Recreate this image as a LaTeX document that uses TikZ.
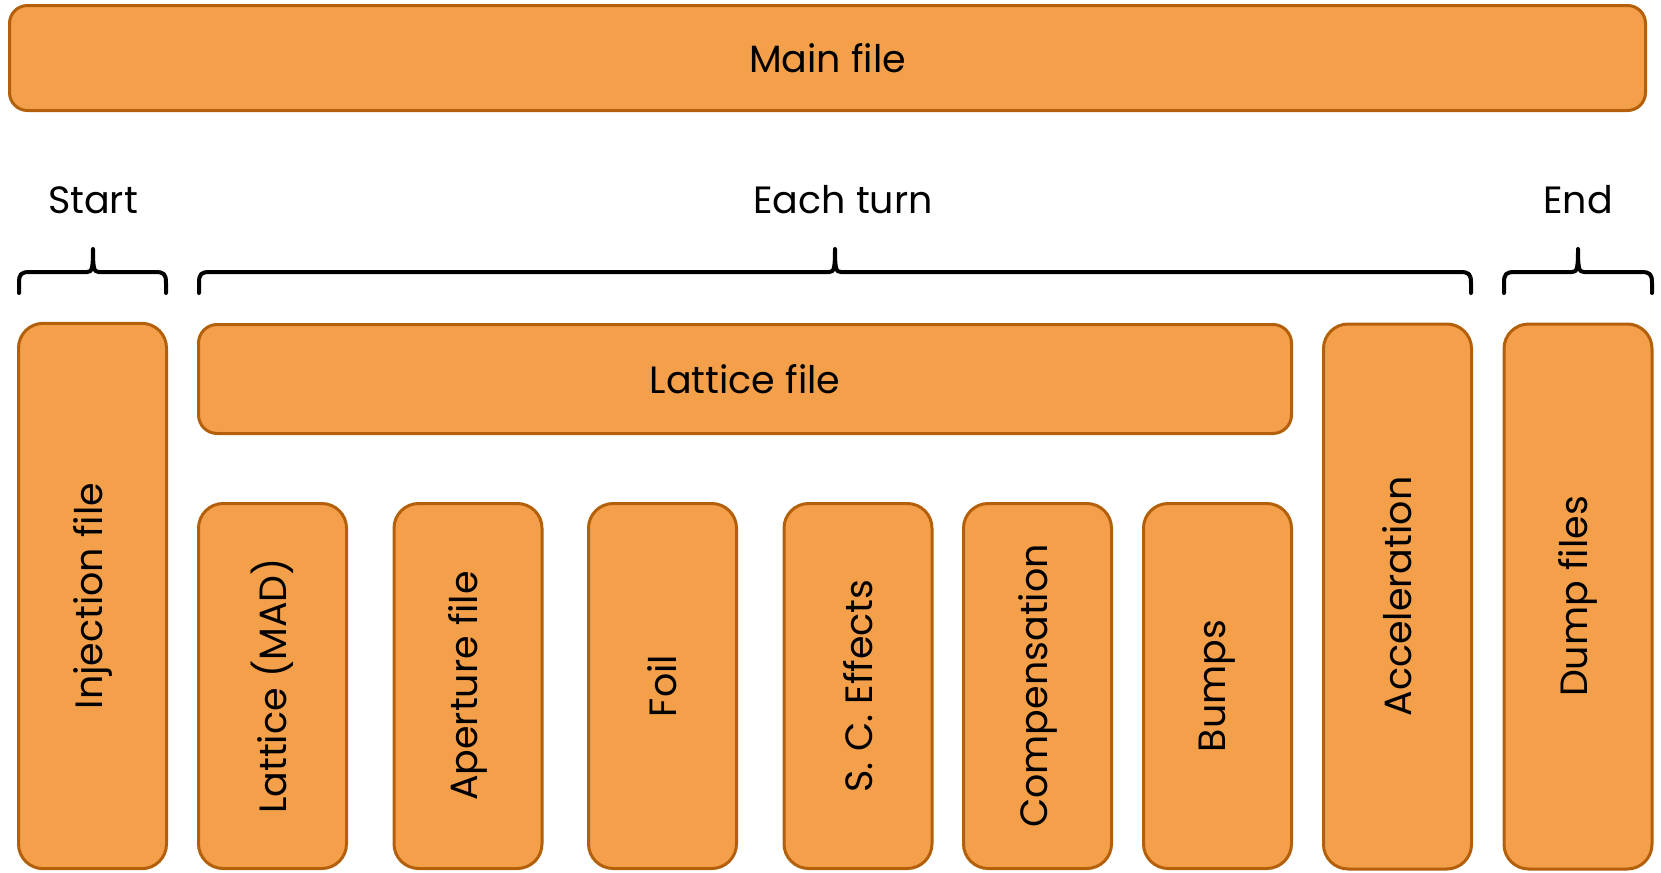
\documentclass[tikz,border=0pt]{standalone}
\usepackage{fontspec}
\setmainfont{Poppins}
\definecolor{boxfill}{HTML}{F4A04A}
\definecolor{boxline}{HTML}{B4600A}
\tikzset{
  filebox/.style={draw=boxline, fill=boxfill, line width=2.25pt,
    inner sep=0pt, outer sep=0pt, font=\fontsize{28.5}{34}\selectfont},
  tallbox/.style={filebox, rotate=90, rounded corners=18.5pt,
    minimum height=111pt},
  widebox/.style={filebox, rounded corners=13.5pt},
  label/.style={font=\fontsize{28.5}{34}\selectfont, inner sep=0pt},
  bracket/.style={line width=3pt, line cap=round, line join=round}
}
% curly bracket opening downwards: left end, right end, tip x (pixel units)
\newcommand\topbrace[3]{%
  \draw[bracket] (#1,293) -- (#1,283)
    .. controls (#1,274) and (#1+2,272) .. (#1+11,272)
    -- (#3-6,272) .. controls (#3-1,272) and (#3,269) .. (#3,249)
    .. controls (#3,269) and (#3+1,272) .. (#3+6,272)
    -- (#2-11,272) .. controls (#2-2,272) and (#2,274) .. (#2,283)
    -- (#2,293);}
\begin{document}
\begin{tikzpicture}[x=0.75pt, y=-0.75pt]
\useasboundingbox (0,0) rectangle (1661,872);

% top-level file
\node[widebox, minimum width=1227pt, minimum height=78.75pt]
  (main) at (827.5,58) {Main file};

% phase labels and brackets
\node[label, anchor=base] (start) at (93,213) {Start};
\node[label, anchor=base] (turn) at (843,213) {Each turn};
\node[label, anchor=base] (end) at (1578,213) {End};
\topbrace{19}{166}{93}
\topbrace{199}{1471}{835}
\topbrace{1504}{1652}{1578}

% start
\node[tallbox, minimum width=409pt] (inj) at (92.5,596) {Injection file};

% each turn
\node[widebox, rounded corners=14pt, minimum width=819.75pt, minimum height=81.75pt]
  (lat) at (745,379) {Lattice file};
\node[tallbox, minimum width=273.75pt] (mad)  at (272.5,686) {Lattice (MAD)};
\node[tallbox, minimum width=273.75pt] (ape)  at (468,686)   {Aperture file};
\node[tallbox, minimum width=273.75pt] (foil) at (662.5,686) {Foil};
\node[tallbox, minimum width=273.75pt] (sce)  at (858,686)   {S. C. Effects};
\node[tallbox, minimum width=273.75pt] (comp) at (1037.5,686) {Compensation};
\node[tallbox, minimum width=273.75pt] (bump) at (1217.5,686) {Bumps};
\node[tallbox, minimum width=408.75pt] (acc)  at (1397.5,596.5) {Acceleration};

% end
\node[tallbox, minimum width=408.75pt] (dump) at (1578,596.5) {Dump files};
\end{tikzpicture}
\end{document}
